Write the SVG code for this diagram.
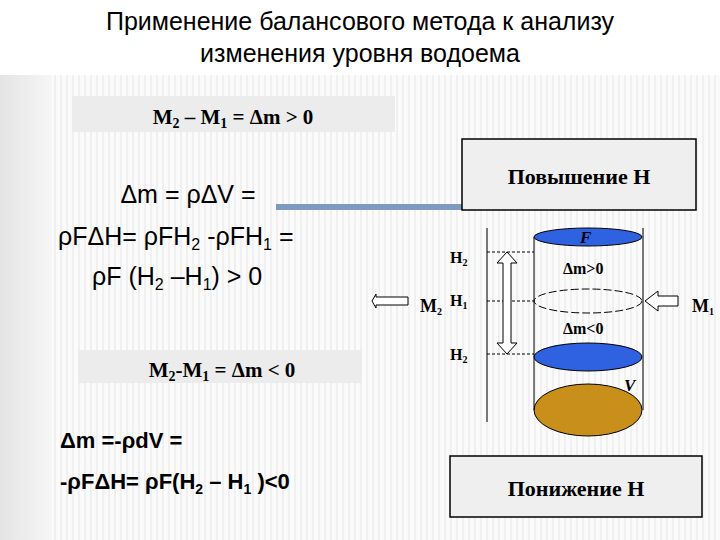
<svg xmlns="http://www.w3.org/2000/svg" width="720" height="540" viewBox="0 0 720 540">
<defs>
<pattern id="st" width="6" height="10" patternUnits="userSpaceOnUse"><rect width="6" height="10" fill="#fbfbfb"/><rect width="2" height="10" fill="#f0f0f0"/></pattern>
<linearGradient id="lb" x1="0" x2="1"><stop offset="0" stop-color="#e4e4e4"/><stop offset="1" stop-color="#f6f6f6"/></linearGradient>
</defs>
<style>
.s{font-family:"Liberation Serif",serif;font-weight:bold;fill:#000}
.a{font-family:"Liberation Sans",sans-serif;fill:#000}
.ln{stroke:#000;stroke-width:1;fill:none}
.d{stroke:#000;stroke-width:1;stroke-dasharray:3,2}
.box{fill:#efefef;stroke:#000;stroke-width:1.5}
.ar{fill:#fff;stroke:#000;stroke-width:1}
</style>
<rect width="720" height="540" fill="#fff"/>
<rect y="75" width="720" height="465" fill="url(#st)"/>
<rect y="75" width="52" height="465" fill="url(#lb)"/>
<text class="a" x="360" y="30" font-size="25" text-anchor="middle">Применение балансового метода к анализу</text>
<text class="a" x="360" y="62" font-size="25" text-anchor="middle">изменения уровня водоема</text>
<rect x="72" y="96" width="323" height="36" fill="#ececec"/>
<text class="s" x="233" y="124" font-size="21" text-anchor="middle">M<tspan font-size="14" dy="4">2</tspan><tspan dy="-4"> – M</tspan><tspan font-size="14" dy="4">1</tspan><tspan dy="-4"> = Δm &gt; 0</tspan></text>
<text class="a" x="188" y="203" font-size="25" text-anchor="middle">Δm = ρΔV =</text>
<text class="a" x="58" y="245" font-size="25">ρFΔH= ρFH<tspan font-size="16" dy="5">2</tspan><tspan dy="-5"> -ρFH</tspan><tspan font-size="16" dy="5">1</tspan><tspan dy="-5"> =</tspan></text>
<text class="a" x="92" y="285" font-size="25">ρF (H<tspan font-size="16" dy="5">2</tspan><tspan dy="-5"> –H</tspan><tspan font-size="16" dy="5">1</tspan><tspan dy="-5">) &gt; 0</tspan></text>
<rect x="78" y="350" width="284" height="33" fill="#ececec"/>
<text class="s" x="222" y="377" font-size="21" text-anchor="middle">M<tspan font-size="14" dy="4">2</tspan><tspan dy="-4">-M</tspan><tspan font-size="14" dy="4">1</tspan><tspan dy="-4"> =  Δm &lt; 0</tspan></text>
<text class="a" x="60" y="448" font-size="22" font-weight="bold">Δm =-ρdV =</text>
<text class="a" x="60" y="489" font-size="22" font-weight="bold">-ρFΔH= ρF(H<tspan font-size="14" dy="5">2</tspan><tspan dy="-5"> – H</tspan><tspan font-size="14" dy="5">1</tspan><tspan dy="-5"> )&lt;0</tspan></text>
<g id="connectors">
<rect x="276" y="204" width="186" height="6" fill="#7f9ac0"/>
<line class="ln" x1="487" y1="228" x2="487" y2="422"/>
<line class="d" x1="487" y1="252" x2="534" y2="252"/>
<line class="d" x1="487" y1="301" x2="534" y2="301"/>
<line class="d" x1="487" y1="354" x2="534" y2="354"/>
<polygon class="ar" points="507,252 517,263 511,263 511,343 517,343 507,354 497,343 503,343 503,263 497,263"/>
<polygon class="ar" points="372,301 376,294 376,297 408,297 408,305 376,305 376,308"/>
<polygon class="ar" points="645,301 658,291 658,296 678,296 678,306 658,306 658,311"/>
</g>
<g id="up"><rect class="box" x="462" y="139" width="234" height="71"/><text class="s" x="579" y="184" font-size="22" text-anchor="middle">Повышение H</text></g>
<g id="down"><rect class="box" x="450" y="456" width="252" height="61"/><text class="s" x="576" y="496" font-size="22" text-anchor="middle">Понижение H</text></g>
<g id="tank">
<ellipse cx="588" cy="410" rx="54" ry="26" fill="#c8901a" stroke="#000"/>
<line class="ln" x1="534" y1="237" x2="534" y2="410"/>
<line class="ln" x1="643" y1="228" x2="643" y2="410"/>
<ellipse cx="588" cy="237" rx="54" ry="9" fill="#2f62e0" stroke="#000"/>
<ellipse cx="588" cy="301" rx="54" ry="12" fill="none" stroke="#000" stroke-dasharray="8,3"/>
<ellipse cx="588" cy="357" rx="54" ry="14" fill="#2f62e0" stroke="#000"/>
<text class="s" x="580" y="243" font-size="17" font-style="italic">F</text>
<text class="s" x="624" y="391" font-size="17" font-style="italic">V</text>
<text class="s" x="563" y="274" font-size="16">Δm&gt;0</text>
<text class="s" x="563" y="334" font-size="16">Δm&lt;0</text>
</g>
<g id="labels">
<text class="s" x="450" y="263" font-size="16">H<tspan font-size="10" dy="3">2</tspan></text>
<text class="s" x="450" y="306" font-size="16">H<tspan font-size="10" dy="3">1</tspan></text>
<text class="s" x="450" y="360" font-size="16">H<tspan font-size="10" dy="3">2</tspan></text>
<text class="s" x="420" y="312" font-size="18">M<tspan font-size="10" dy="3">2</tspan></text>
<text class="s" x="692" y="312" font-size="18">M<tspan font-size="10" dy="3">1</tspan></text>
</g>
</svg>
